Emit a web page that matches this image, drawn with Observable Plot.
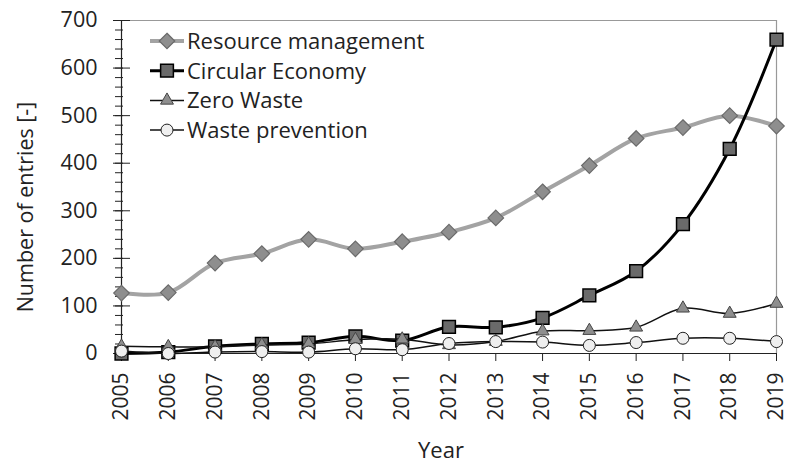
<!DOCTYPE html>
<html><head><meta charset="utf-8">
<script src="https://cdn.jsdelivr.net/npm/d3@7"></script>
<script src="https://cdn.jsdelivr.net/npm/@observablehq/plot@0.6"></script>
<style>body{margin:0;background:#fff;} svg{display:block}</style>
</head><body><div id="chart"></div>
<script>
const years = [2005,2006,2007,2008,2009,2010,2011,2012,2013,2014,2015,2016,2017,2018,2019];
const resourceManagement = [127,128,190,210,240,220,235,255,285,340,395,452,475,500,478];
const circularEconomy   = [0,3,15,20,23,36,27,56,55,75,122,173,272,430,660];
const zeroWaste         = [15,14,14,18,20,29,30,18,25,47,48,55,95,84,105];
const wastePrevention   = [5,0,3,4,3,10,8,21,25,24,17,23,32,32,25];
const seriesNames = ["Resource management","Circular Economy","Zero Waste","Waste prevention"];
const yMajor = [0,100,200,300,400,500,600,700];
const yTitle = "Number of entries [-]";
const xTitle = "Year";

const FONT = "'Open Sans', Lato, sans-serif";
const styles = [
  {line:"#a3a3a3", lw:4,   symbol:"diamond2", r:7,   fill:"#8e8e8e", stroke:"#6a6a6a", sw:1.2},
  {line:"#000",    lw:3,   symbol:"square",   r:7.2, fill:"#6a6a6a", stroke:"#000",    sw:1.5},
  {line:"#111",    lw:1.5, symbol:"triangle", r:4.8, fill:"#8e8e8e", stroke:"#444",    sw:1},
  {line:"#111",    lw:1.5, symbol:"circle",   r:6,   fill:"#efefef", stroke:"#222",    sw:1}
];
const allSeries = [resourceManagement, circularEconomy, zeroWaste, wastePrevention];
const rows = [];
allSeries.forEach((vals, si) => vals.forEach((v, i) => rows.push({series: seriesNames[si], si, year: years[i], value: v})));

const marks = [
  Plot.ruleY([700], {stroke:"#999", strokeWidth:1.2}),
  Plot.ruleX([2019], {stroke:"#999", strokeWidth:1.2}),
  Plot.axisY({ticks: d3.range(0, 701, 20), tickSize: 8, dx: 2, text: null, stroke:"#222", label:null}),
  Plot.axisY({ticks: yMajor, tickSize: 17, dx: 9, text: null, stroke:"#222", label:null}),
  Plot.axisY({ticks: yMajor, tickSize: 0, tickPadding: 24, fontSize: 21.5, label:null}),
  Plot.axisX({ticks: years, tickFormat: d => String(d), tickRotate: -90, tickSize: 8, tickPadding: 11, fontSize: 21, label: null, stroke:"#222"}),
  Plot.ruleY([0], {stroke:"#222", strokeWidth:1.2}),
  Plot.ruleX([2005], {stroke:"#222", strokeWidth:1.2})
];
styles.forEach((s, si) => {
  const d = rows.filter(r => r.si === si);
  marks.push(Plot.line(d, {x:"year", y:"value", curve:"catmull-rom", stroke:s.line, strokeWidth:s.lw}));
  marks.push(Plot.dot(d, {x:"year", y:"value", symbol: () => s.symbol, r:s.r, fill:s.fill, stroke:s.stroke, strokeWidth:s.sw}));
});

const chart = Plot.plot({
  width: 786, height: 463,
  marginLeft: 121, marginRight: 10, marginTop: 20, marginBottom: 110,
  x: {domain: [2005, 2019], axis: null},
  y: {domain: [0, 700], axis: null},
  symbol: {type:"identity"},
  style: {fontFamily: FONT, fontSize: "18px", color: "#222", background:"#fff"},
  marks
});
document.getElementById("chart").appendChild(chart);

const svg = d3.select(chart);
// axis titles
const tg = svg.append("g").attr("font-family", FONT).attr("fill", "#222").attr("text-anchor", "middle");
tg.append("text").attr("transform", "translate(33,207) rotate(-90)").attr("font-size", 21.5).text(yTitle);
tg.append("text").attr("x", 441).attr("y", 458).attr("font-size", 22).text(xTitle);

// legend inside the frame, top-left
const lg = svg.append("g").attr("font-family", FONT).attr("font-size", 22).attr("fill","#222").attr("text-anchor","start");
const symMap = {diamond2: d3.symbolDiamond2, square: d3.symbolSquare, triangle: d3.symbolTriangle, circle: d3.symbolCircle};
seriesNames.forEach((name, i) => {
  const s = styles[i];
  const y = 41 + i * 29.7;
  lg.append("line").attr("x1",150).attr("x2",184).attr("y1",y).attr("y2",y).attr("stroke",s.line).attr("stroke-width",s.lw);
  lg.append("path").attr("d", d3.symbol(symMap[s.symbol], Math.PI * s.r * s.r)()).attr("transform",`translate(167,${y})`)
    .attr("fill",s.fill).attr("stroke",s.stroke).attr("stroke-width",s.sw);
  lg.append("text").attr("x",187).attr("y",y).attr("dy","0.36em").text(name);
});
</script></body></html>
